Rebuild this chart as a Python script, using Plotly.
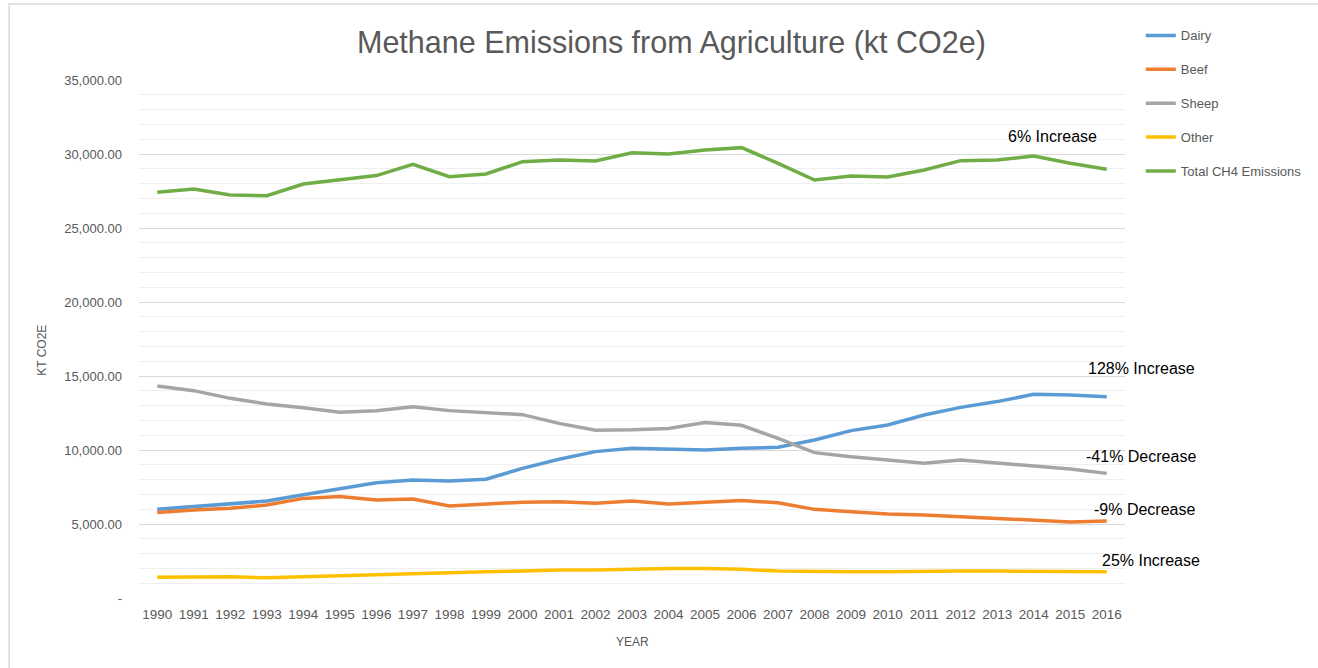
import plotly.graph_objects as go

# Methane emissions from agriculture, kt CO2e, 1990-2016
years = [str(y) for y in range(1990, 2017)]

dairy = [5990, 6170, 6330, 6550, 6980, 7410, 7790, 7970, 7910, 8020,
         8760, 9370, 9890, 10110, 10050, 10000, 10110, 10180, 10680, 11310,
         11690, 12360, 12880, 13270, 13760, 13720, 13600]
beef = [5770, 5950, 6060, 6280, 6730, 6850, 6620, 6690, 6220, 6330,
        6470, 6510, 6400, 6550, 6350, 6470, 6580, 6440, 5990, 5830,
        5680, 5610, 5500, 5380, 5270, 5140, 5200]
sheep = [14320, 14010, 13490, 13110, 12860, 12550, 12660, 12930, 12660, 12520,
         12390, 11800, 11330, 11360, 11460, 11850, 11670, 10790, 9820, 9550,
         9320, 9100, 9320, 9140, 8920, 8720, 8420]
other = [1400, 1440, 1440, 1360, 1440, 1490, 1550, 1670, 1730, 1780,
         1820, 1890, 1890, 1950, 2000, 2000, 1940, 1820, 1780, 1780,
         1780, 1820, 1820, 1820, 1820, 1780, 1770]
total = [27410, 27640, 27230, 27180, 27970, 28240, 28540, 29300, 28470, 28650,
         29480, 29590, 29530, 30080, 30000, 30270, 30430, 29370, 28240, 28510,
         28450, 28920, 29550, 29590, 29860, 29370, 28970]

series = [
    ("Dairy", dairy, "#5B9BD5"),
    ("Beef", beef, "#ED7D31"),
    ("Sheep", sheep, "#A5A5A5"),
    ("Other", other, "#FFC000"),
    ("Total CH4 Emissions", total, "#70AD47"),
]

# change labels placed beside the last year of each series
change_labels = [
    ("6% Increase", 31150, -101),
    ("128% Increase", 15540, -21),
    ("-41% Decrease", 9580, -23),
    ("-9% Decrease", 6000, -15),
    ("25% Increase", 2560, -7),
]

y_ticks = [0, 5000, 10000, 15000, 20000, 25000, 30000, 35000]
y_tick_text = ["-", "5,000.00", "10,000.00", "15,000.00", "20,000.00",
               "25,000.00", "30,000.00", "35,000.00"]

FONT = "Liberation Sans, Arial, sans-serif"
GREY = "#595959"

fig = go.Figure()
for name, vals, color in series:
    fig.add_trace(go.Scatter(
        x=years, y=vals, name=name, mode="lines", legendgroup=name,
        line=dict(color=color, width=3.5),
    ))

last_idx = len(years) - 1  # category index of the final year
for text, yv, shift in change_labels:
    fig.add_annotation(
        x=last_idx, y=yv, xref="x", yref="y", text=text, showarrow=False,
        xanchor="left", yanchor="middle", xshift=shift,
        font=dict(family=FONT, size=16, color="#000000"),
    )

# y-axis title
fig.add_annotation(
    x=-0.098, y=0.478, xref="paper", yref="paper", text="KT CO2E",
    showarrow=False, textangle=-90, xanchor="center", yanchor="middle",
    font=dict(family=FONT, size=12, color=GREY),
)
# x-axis title
fig.add_annotation(
    x=0.5, y=-0.085, xref="paper", yref="paper", text="YEAR",
    showarrow=False, xanchor="center", yanchor="middle",
    font=dict(family=FONT, size=12, color=GREY),
)

# chart frame
fig.add_shape(
    type="rect", xref="paper", yref="paper",
    x0=-0.1317, x1=1.21, y0=-0.16, y1=1.1467,
    line=dict(color="#D9D9D9", width=1.5), fillcolor="rgba(0,0,0,0)",
    layer="below",
)

fig.update_layout(
    width=1318, height=668,
    margin=dict(l=139, r=192, t=80, b=70),
    paper_bgcolor="white", plot_bgcolor="white",
    title=dict(
        text="Methane Emissions from Agriculture (kt CO2e)",
        x=0.54, xref="paper", xanchor="center",
        y=0.937, yref="container", yanchor="middle",
        font=dict(family=FONT, size=30.5, color=GREY),
    ),
    font=dict(family=FONT, size=13, color=GREY),
    showlegend=True,
    legend=dict(
        x=1.015, y=1.115, xanchor="left", yanchor="top",
        font=dict(family=FONT, size=13, color=GREY),
        tracegroupgap=14, bgcolor="rgba(0,0,0,0)",
    ),
    xaxis=dict(
        type="category", range=[-0.5, len(years) - 0.5],
        showgrid=False, zeroline=False,
        showline=False, ticks="", ticklabelstandoff=6,
        tickfont=dict(family=FONT, size=13.5, color=GREY),
    ),
    yaxis=dict(
        range=[0, 35000], tickvals=y_ticks, ticktext=y_tick_text,
        showgrid=True, gridcolor="#D9D9D9", gridwidth=1.3,
        zeroline=False, showline=False, ticks="", ticklabelstandoff=16,
        tickfont=dict(family=FONT, size=13, color=GREY),
        minor=dict(dtick=1000, showgrid=True, gridcolor="#EFEFEF", gridwidth=1),
    ),
)

fig.write_html("out.html")
